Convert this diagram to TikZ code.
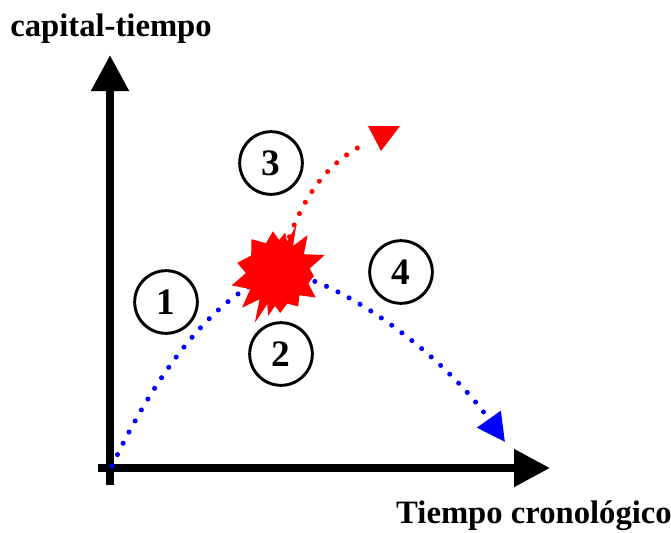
\documentclass[tikz,border=0pt]{standalone}
\usepackage{fontspec}
\setmainfont{Liberation Serif}
\usetikzlibrary{arrows.meta}
\definecolor{burstred}{HTML}{FF0000}
\definecolor{traceblue}{HTML}{0000FF}

\begin{document}
\begin{tikzpicture}[
        x=0.75pt, y=-0.75pt,
        axis/.style={line width=6pt, -{Triangle[length=27pt,width=27pt]}},
        stage/.style={circle, draw, line width=2.2pt, minimum size=47pt, inner sep=0pt,
            font=\fontsize{28}{28}\selectfont\bfseries},
        axislabel/.style={font=\fontsize{24.5}{28}\selectfont\bfseries},
        trace/.style={line width=3.8pt, line cap=round, dash pattern=on 0pt off 9.5pt}
    ]
        \useasboundingbox (0,0) rectangle (671,532);

        % ejes
        \coordinate (ybot) at (110,485);
        \coordinate (ytop) at (110,55);
        \coordinate (xleft) at (98,468);
        \coordinate (xright) at (550,468);
        \draw[axis] (ybot) -- (ytop);
        \draw[axis] (xleft) -- (xright);
        \node[axislabel] (ylabel) at (111,29) {capital-tiempo};
        \node[axislabel] (xlabel) at (534,516) {Tiempo cronológico};

        % trayectorias
        \coordinate (start) at (112,466);
        \coordinate (hit) at (278,273);
        \coordinate (downend) at (505,442);
        \coordinate (upend) at (367,143);
        \draw[trace, traceblue] (start) .. controls (150,385) and (210,295) .. (hit);
        \draw[trace, traceblue, -{Triangle[length=21pt,width=21pt]}]
            (hit) .. controls (330,273) and (440,350) .. (downend);
        \draw[trace, burstred] (hit) .. controls (295,210) and (320,165) .. (upend);
        \fill[burstred] (368,126) -- (400,126) -- (381,151) -- cycle;

        % estallido
        \fill[burstred] ([shift={(-69:51)}]hit)
            \foreach \a/\r in {-61/31,-52/48,-36/32,-21/50,-8/32,5/36,19/32,33/45,46/31,
                59/39,73/32,87/40,95/33,103/44,109/33,115/55,125/32,136/50,150/32,
                165/48,180/32,194/42,213/32,232/43,248/32,263/42,272/33,280/41,286/33}
            { -- ([shift={(\a:\r)}]hit) } -- cycle;

        % etapas
        \node[stage] (s1) at (166,302) {1};
        \node[stage] (s2) at (281,354) {2};
        \node[stage] (s3) at (271,163) {3};
        \node[stage] (s4) at (401,272) {4};
    \end{tikzpicture}
\end{document}
